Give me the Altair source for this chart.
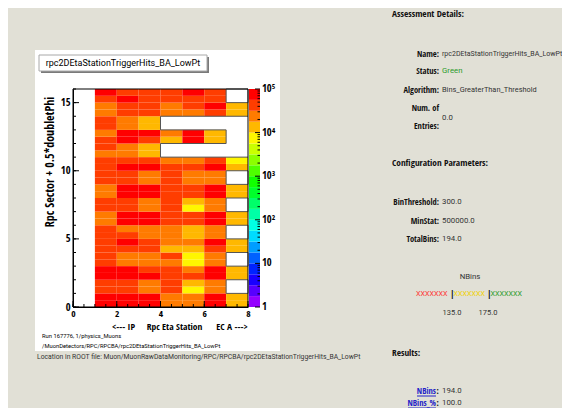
import colorsys
import altair as alt
import pandas as pd

# ---------------- data ----------------
# bin counts per Eta-station column (x bins 1..7), 32 rows of 0.5 from y=0 upward
R, r, O, A, Y, E = 75000, 42000, 24000, 13000, 7500, 0
eta1 = [R, R, r, r, R, R, r, r, r, r, r, r, O, O, r, r, O, O, r, r, r, r, O, r, r, O, r, r, O, O, r, R]
eta2 = [R, R, r, r, R, R, O, O, r, R, r, O, R, R, r, r, R, R, r, r, R, r, O, O, R, R, O, O, r, r, R, r]
eta3 = [R, R, O, O, R, r, O, O, r, r, O, O, R, R, O, O, R, R, O, O, R, r, A, A, r, R, A, A, r, r, r, r]
eta4 = [O, O, r, r, r, r, O, r, A, O, O, O, r, r, r, r, r, r, r, r, r, O, E, E, A, O, E, E, O, O, r, r]
eta5 = [O, O, Y, A, r, O, Y, Y, A, O, A, A, r, r, Y, A, r, r, O, O, r, O, E, E, R, R, E, E, O, r, r, R]
eta6 = [R, R, O, O, R, R, O, O, r, R, O, O, R, R, O, O, R, R, O, O, R, r, E, E, A, A, E, E, r, R, r, r]
eta7 = [A, A, E, E, A, A, E, E, A, A, E, E, A, A, E, E, A, A, E, E, A, Y, E, E, E, E, E, E, A, A, E, E]
columns = [eta1, eta2, eta3, eta4, eta5, eta6, eta7]

x_ticks_major = [0, 2, 4, 6, 8]
y_ticks_major = [0, 5, 10, 15]
cbar_labels = ["1", "10", "10²", "10³", "10⁴", "10⁵"]
n_levels = 20

rows = []
for ci, col in enumerate(columns):
    for j, v in enumerate(col):
        if v > 0:
            rows.append({"x": ci + 1, "x2": ci + 2, "y": j * 0.5, "y2": j * 0.5 + 0.5, "v": v})
heat_df = pd.DataFrame(rows)

# empty-bin outlines
outline_df = pd.DataFrame({"x": [8, 4, 4, 7, 7, 4, 4, 8], "y": [14, 14, 13, 13, 12, 12, 11, 11],
                           "o": list(range(8))})
empty7 = [15, 9, 7, 5, 3, 1]
empty_df = pd.DataFrame({"x": [7] * len(empty7), "x2": [8] * len(empty7),
                         "y": empty7, "y2": [e + 1 for e in empty7]})

# colour palette (ROOT rainbow, 20 contours)
palette = []
for L in range(n_levels):
    h = 275.0 * (n_levels - 1 - L) / (n_levels - 1) / 360.0
    rr, gg, bb = colorsys.hsv_to_rgb(h, 1, 1)
    palette.append("#%02x%02x%02x" % (int(rr * 255), int(gg * 255), int(bb * 255)))

cbar_df = pd.DataFrame({"level": list(range(n_levels))})
cbar_lab_df = pd.DataFrame({"dec": list(range(6)), "lab": cbar_labels})
cb_major = pd.DataFrame({"val": [1, 10, 100, 1000, 10000, 100000]})
cb_minor = pd.DataFrame({"val": [m * 10 ** d for d in range(5) for m in range(2, 10)]})

W, H = 175, 218
REG = "Roboto"
BOLD = "Open Sans Condensed"

xs = alt.Scale(domain=[0, 8], nice=False, zero=False)
ys = alt.Scale(domain=[0, 16], nice=False, zero=False)
xaxis = alt.Axis(values=x_ticks_major, format="d", tickSize=0, labelPadding=1, labelFont=BOLD,
                 labelFontWeight="bold", labelFontSize=9.5, labelColor="black", domainColor="black",
                 grid=False, title=None, zindex=1, labelFlush=False)
yaxis = alt.Axis(values=y_ticks_major, format="d", tickSize=0, labelPadding=3, labelFont=BOLD,
                 labelFontWeight="bold", labelFontSize=10.5, labelColor="black", domainColor="black",
                 grid=False, title=None, zindex=1, labelFlush=False)


def X(f):
    return alt.X(f, type="quantitative", scale=xs, axis=xaxis)


def Yc(f):
    return alt.Y(f, type="quantitative", scale=ys, axis=yaxis)


color = alt.Color("level:O", scale=alt.Scale(domain=list(range(n_levels)), range=palette), legend=None)
one = pd.DataFrame({"a": [0]})


def box(x1, x2, y1, y2, **kw):
    return alt.Chart(one).mark_rect(**kw).encode(x=alt.value(x1), x2=alt.value(x2),
                                                 y=alt.value(y1), y2=alt.value(y2))


def label(text, x, y, size=9, bold=False, col="#222", align="left", angle=0):
    kw = dict(text=text, align=align, baseline="middle", fontSize=size,
              fontWeight="bold" if bold else "normal", color=col, font=BOLD if bold else REG)
    if angle:
        kw["angle"] = angle
    return alt.Chart(one).mark_text(**kw).encode(x=alt.value(x), y=alt.value(y))


layers = []
# white ROOT canvas and title box
layers.append(box(-38, 207, -39, 262, color="white"))
layers.append(box(-32, 136, -32, -16, color="#7a7a7a"))
layers.append(box(-34, 134, -34, -18, color="white", stroke="#a8a8a8", strokeWidth=1))
layers.append(label("rpc2DEtaStationTriggerHits_BA_LowPt", 50, -26, size=9, col="black", align="center"))

# heatmap
heat = alt.Chart(heat_df).transform_calculate(
    level="min(19, floor(log(datum.v) / LN10 * 4))"
).mark_rect().encode(x=X("x"), x2="x2", y=Yc("y"), y2="y2", color=color)
layers.append(heat)

layers.append(alt.Chart(outline_df).mark_line(color="#555", strokeWidth=1).encode(
    x=X("x"), y=Yc("y"), order="o:Q"))
layers.append(alt.Chart(empty_df).mark_rect(fillOpacity=0, stroke="#555", strokeWidth=1).encode(
    x=X("x"), x2="x2", y=Yc("y"), y2="y2"))

# frame
frame_df = pd.DataFrame({"x": [0], "x2": [8], "y": [0], "y2": [16]})
layers.append(alt.Chart(frame_df).mark_rect(fillOpacity=0, stroke="black", strokeWidth=1).encode(
    x=X("x"), x2="x2", y=Yc("y"), y2="y2"))

# inward ticks
xt_major = pd.DataFrame({"t": x_ticks_major})
xt_minor = pd.DataFrame({"t": [i * 0.5 for i in range(17)]})
yt_major = pd.DataFrame({"t": y_ticks_major})
yt_minor = pd.DataFrame({"t": list(range(17))})
layers.append(alt.Chart(xt_major).mark_rule(color="black").encode(x=X("t"), y=alt.value(H), y2=alt.value(H - 6)))
layers.append(alt.Chart(xt_minor).mark_rule(color="black").encode(x=X("t"), y=alt.value(H), y2=alt.value(H - 3)))
layers.append(alt.Chart(yt_major).mark_rule(color="black").encode(y=Yc("t"), x=alt.value(0), x2=alt.value(6)))
layers.append(alt.Chart(yt_minor).mark_rule(color="black").encode(y=Yc("t"), x=alt.value(0), x2=alt.value(3)))

# colour bar (shares the heatmap's y scale: 16 units = 5 decades)
cbar = alt.Chart(cbar_df).transform_calculate(
    yb="datum.level * 16 / 20", yt="(datum.level + 1) * 16 / 20"
).mark_rect().encode(x=alt.value(176), x2=alt.value(187), y=Yc("yb:Q"), y2="yt:Q", color=color)
layers.append(cbar)
layers.append(alt.Chart(cb_major).transform_calculate(yv="log(datum.val) / LN10 * 16 / 5").mark_rule(
    color="black").encode(y=Yc("yv:Q"), x=alt.value(187), x2=alt.value(182)))
layers.append(alt.Chart(cb_minor).transform_calculate(yv="log(datum.val) / LN10 * 16 / 5").mark_rule(
    color="black").encode(y=Yc("yv:Q"), x=alt.value(187), x2=alt.value(184.5)))
layers.append(alt.Chart(cbar_lab_df).transform_calculate(yv="datum.dec * 16 / 5").mark_text(
    align="left", baseline="middle", font=BOLD, fontWeight="bold", fontSize=10.5, color="black"
).encode(y=Yc("yv:Q"), x=alt.value(189), text="lab:N"))

# axis titles and canvas captions
layers.append(label("Rpc Sector + 0.5*doubletPhi", -23, 73, size=12, bold=True, col="black",
                    align="center", angle=270))
layers.append(label("<--- IP", 50.5, 237.5, size=9.5, bold=True, col="black", align="center"))
layers.append(label("Rpc Eta Station", 101.5, 237.5, size=9.5, bold=True, col="black", align="center"))
layers.append(label("EC A --->", 159, 237.5, size=9.5, bold=True, col="black", align="center"))
layers.append(label("Run 167776, 1/physics_Muons", -31, 247, size=5.8, col="black"))
layers.append(label("/MuonDetectors/RPC/RPCBA/rpc2DEtaStationTriggerHits_BA_LowPt", -31, 257, size=5.8,
                    col="black"))
layers.append(label("Location in ROOT file: Muon/MuonRawDataMonitoring/RPC/RPCBA/rpc2DEtaStationTriggerHits_BA_LowPt",
                    -36, 268, size=6.8, col="#333"))

# assessment panel
LX, VX = 366, 369
HEAD, LAB, VAL = 9.3, 8.5, 7.8
layers.append(label("Assessment Details:", 319, -75, size=HEAD, bold=True, col="#111"))
layers.append(label("Name:", LX, -35, size=LAB, bold=True, col="#111", align="right"))
layers.append(label("rpc2DEtaStationTriggerHits_BA_LowPt", VX, -35, size=7.0, col="#333"))
layers.append(label("Status:", LX, -18, size=LAB, bold=True, col="#111", align="right"))
layers.append(label("Green", VX, -18, size=VAL, col="#2a9a2a"))
layers.append(label("Algorithm:", LX, 1, size=LAB, bold=True, col="#111", align="right"))
layers.append(label("Bins_GreaterThan_Threshold", VX, 1, size=7.4, col="#333"))
layers.append(label("Num. of", LX, 19, size=LAB, bold=True, col="#111", align="right"))
layers.append(label("Entries:", LX, 37, size=LAB, bold=True, col="#111", align="right"))
layers.append(label("0.0", VX, 29, size=VAL, col="#333"))
layers.append(label("Configuration Parameters:", 319, 74, size=HEAD, bold=True, col="#111"))
layers.append(label("BinThreshold:", LX, 113, size=LAB, bold=True, col="#111", align="right"))
layers.append(label("300.0", VX, 113, size=VAL, col="#333"))
layers.append(label("MinStat:", LX, 132, size=LAB, bold=True, col="#111", align="right"))
layers.append(label("500000.0", VX, 132, size=VAL, col="#333"))
layers.append(label("TotalBins:", LX, 150, size=LAB, bold=True, col="#111", align="right"))
layers.append(label("194.0", VX, 150, size=VAL, col="#333"))
layers.append(label("NBins", 397, 188, size=VAL, col="#333", align="center"))
layers.append(label("XXXXXXX", 343, 205, size=7.2, col="#ff3030"))
layers.append(label("|", 377, 205, size=9, col="black", bold=True))
layers.append(label("XXXXXXX", 380.5, 205, size=7.2, col="#f0d000"))
layers.append(label("|", 414, 205, size=9, col="black", bold=True))
layers.append(label("XXXXXXX", 417.5, 205, size=7.2, col="#2a9a2a"))
layers.append(label("135.0", 379, 224, size=7.5, col="#333", align="center"))
layers.append(label("175.0", 415, 224, size=7.5, col="#333", align="center"))
layers.append(label("Results:", 319, 264, size=HEAD, bold=True, col="#111"))
layers.append(label("NBins", 363, 302, size=LAB, bold=True, col="#2323c8", align="right"))
layers.append(label(":", 363.5, 302, size=LAB, bold=True, col="#111"))
layers.append(label("194.0", VX, 302, size=VAL, col="#333"))
layers.append(label("NBins_%", 363, 314, size=LAB, bold=True, col="#2323c8", align="right"))
layers.append(label(":", 363.5, 314, size=LAB, bold=True, col="#111"))
layers.append(label("100.0", VX, 314, size=VAL, col="#333"))
underline_df = pd.DataFrame({"a": [0]})
layers.append(alt.Chart(underline_df).mark_rule(color="#2323c8").encode(
    x=alt.value(344), x2=alt.value(363), y=alt.value(307)))
layers.append(alt.Chart(underline_df).mark_rule(color="#2323c8").encode(
    x=alt.value(335), x2=alt.value(363), y=alt.value(319)))

chart = alt.layer(*layers).properties(
    width=W, height=H, autosize="none",
    padding={"left": 65, "top": 81, "right": 314, "bottom": 101},
).configure(background="#e1e0d6").configure_view(strokeWidth=0)

chart.save("out.html", embed_options={"renderer": "svg", "actions": False})
